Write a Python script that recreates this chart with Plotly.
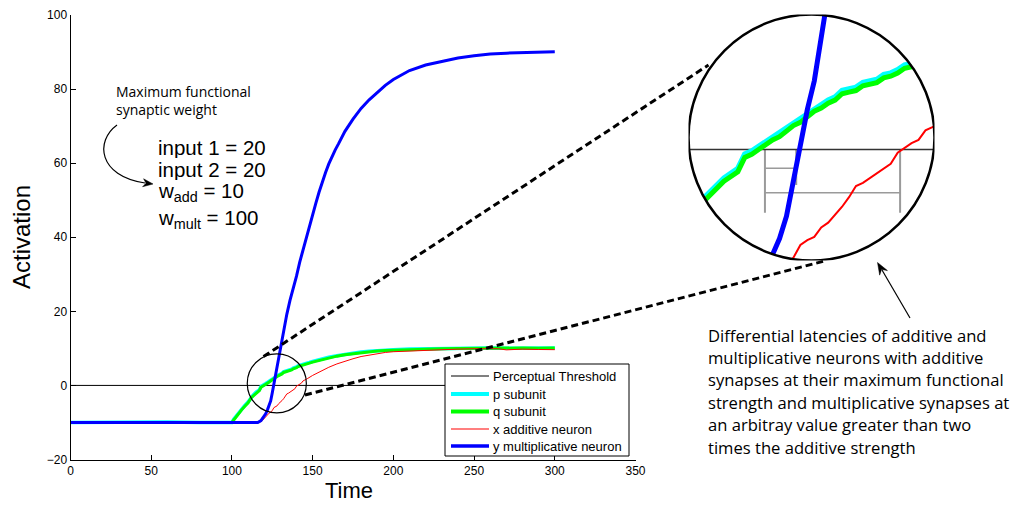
import math
import plotly.graph_objects as go

# ---------------------------------------------------------------- data
# p / q subunits (shared time base)
t_sub = [0, 20, 40, 60, 80, 100, 101, 102, 104, 106, 108, 110, 112, 113, 115, 117, 118, 119,
         120, 121, 122, 123, 124, 125, 126, 127, 128, 129, 130, 131, 132, 133, 134, 135, 136,
         137, 138, 139, 140, 141, 142, 143, 144, 146, 148, 150, 155, 160, 165, 170, 175, 180,
         185, 190, 195, 200, 210, 220, 230, 240, 250, 260, 270, 280, 290, 300]
p_subunit = [-10.0, -9.9, -10.0, -9.9, -10.0, -10.0, -9.2, -8.6, -7.7, -6.4, -5.4, -4.5, -3.1,
             -2.7, -1.8, -1.2, -0.3, -0.1, 0.2, 0.5, 0.8, 1.0, 1.4, 1.7, 1.9, 2.3, 2.6, 2.8,
             3.1, 3.3, 3.7, 3.8, 3.9, 4.2, 4.3, 4.4, 4.7, 4.8, 5.0, 5.3, 5.4, 5.5, 5.7, 6.0,
             6.2, 6.5, 7.1, 7.6, 8.0, 8.4, 8.8, 9.0, 9.2, 9.4, 9.5, 9.6, 9.8, 9.9, 9.95, 10.0,
             10.05, 10.1, 10.05, 10.1, 10.05, 10.1]
q_subunit = [-10.0, -10.0, -9.9, -10.0, -10.0, -10.0, -9.4, -8.8, -7.9, -6.6, -5.6, -4.7, -3.3,
             -2.9, -2.0, -1.4, -0.5, -0.3, 0.0, 0.3, 0.6, 0.8, 1.2, 1.5, 1.7, 2.1, 2.4, 2.6,
             2.9, 3.1, 3.5, 3.6, 3.7, 4.0, 4.1, 4.2, 4.5, 4.6, 4.8, 5.1, 5.2, 5.3, 5.5, 5.8,
             6.0, 6.3, 6.9, 7.4, 7.9, 8.3, 8.6, 8.9, 9.1, 9.3, 9.4, 9.5, 9.7, 9.8, 9.9, 9.95,
             10.0, 10.1, 10.0, 10.1, 10.0, 10.1]

# x additive neuron
t_add = [0, 20, 40, 60, 80, 100, 110, 117, 118, 119, 120, 121, 122, 123, 124, 125, 126, 127,
         128, 129, 130, 131, 132, 133, 134, 135, 136, 137, 138, 139, 140, 141, 142, 143, 144,
         145, 147, 150, 155, 160, 165, 170, 175, 180, 185, 190, 195, 200, 210, 220, 230, 240,
         250, 255, 260, 265, 270, 275, 280, 290, 300]
x_additive = [-10.0, -10.0, -10.0, -10.0, -10.0, -10.0, -10.0, -10.0, -9.8, -9.4, -8.9, -8.4,
              -8.0, -7.5, -7.2, -6.8, -6.0, -5.7, -5.5, -4.9, -4.6, -4.1, -3.6, -3.0, -2.3,
              -2.1, -1.8, -1.5, -1.2, -0.9, -0.2, 0.1, 0.4, 0.6, 1.2, 1.4, 1.9, 2.7, 3.9, 4.9,
              5.8, 6.6, 7.2, 7.8, 8.2, 8.6, 8.9, 9.1, 9.3, 9.5, 9.75, 9.8, 9.9, 9.95, 9.85, 9.9,
              9.6, 9.8, 9.8, 9.7, 9.65]

# y multiplicative neuron
t_mult = [0, 20, 40, 60, 80, 100, 110, 116, 118, 120, 121, 122, 123, 124, 125, 126, 127, 128,
          129, 130, 131, 132, 133, 134, 136, 138, 140, 142, 144, 146, 148, 150, 152, 154, 156,
          158, 160, 162, 164, 166, 170, 175, 180, 185, 190, 195, 200, 210, 220, 230, 240, 250,
          260, 270, 280, 290, 300]
y_multiplicative = [-10.0, -10.0, -10.0, -10.0, -10.0, -10.0, -10.0, -10.0, -9.5, -8.3, -7.6,
                    -6.6, -5.6, -4.2, -2.0, 0.4, 2.5, 4.3, 7.0, 9.8, 12.2, 14.8, 17.0, 19.2,
                    23.0, 26.0, 29.5, 33.3, 36.6, 39.7, 42.8, 46.0, 49.2, 52.2, 55.0, 57.5,
                    59.8, 61.8, 63.6, 65.2, 68.6, 71.9, 74.8, 77.1, 79.1, 81.0, 82.6, 85.0,
                    86.5, 87.5, 88.4, 89.0, 89.5, 89.7, 89.9, 90.0, 90.1]

# perceptual threshold
t_threshold = [0, 300]
threshold = [0, 0]

# latency markers drawn in the magnified view (crossing times)
latency_marks = [120.9, 125.4, 140.35]

x_ticks = [0, 50, 100, 150, 200, 250, 300, 350]
y_ticks = [-20, 0, 20, 40, 60, 80, 100]

series = [
    ("Perceptual Threshold", t_threshold, threshold, "#000000", 1.0, 1.6),
    ("p subunit", t_sub, p_subunit, "#00FFFF", 3.5, 5.5),
    ("q subunit", t_sub, q_subunit, "#00FF00", 3.0, 5.0),
    ("x additive neuron", t_add, x_additive, "#FF0000", 1.0, 2.0),
    ("y multiplicative neuron", t_mult, y_multiplicative, "#0000FF", 3.0, 5.0),
]

# ---------------------------------------------------------------- geometry helpers
W, H = 1011, 506


def px(x):
    return x / W


def py(y):
    return 1 - y / H


# magnified window (centre and half-ranges in data units)
TC, VC, RT, RV = 127.6, 0.75, 17.7, 7.73
# small circle marking the magnified region on the main axes
SC_T, SC_V, SC_RT, SC_RV = 127.8, 0.54, 18.3, 7.97


def clip_to_ellipse(ts, vs, tc, vc, rt, rv):
    """Keep the parts of a polyline that fall inside an axis-aligned ellipse."""
    out_t, out_v = [], []
    continuing = False
    for i in range(len(ts) - 1):
        t0, v0, t1, v1 = ts[i], vs[i], ts[i + 1], vs[i + 1]
        ax0, ay0 = (t0 - tc) / rt, (v0 - vc) / rv
        dx, dy = (t1 - t0) / rt, (v1 - v0) / rv
        A = dx * dx + dy * dy
        B = 2 * (ax0 * dx + ay0 * dy)
        C = ax0 * ax0 + ay0 * ay0 - 1
        if A == 0:
            continuing = False
            continue
        disc = B * B - 4 * A * C
        if disc <= 0:
            continuing = False
            continue
        r = math.sqrt(disc)
        lo = max(0.0, (-B - r) / (2 * A))
        hi = min(1.0, (-B + r) / (2 * A))
        if lo >= hi:
            continuing = False
            continue
        pl = (t0 + lo * (t1 - t0), v0 + lo * (v1 - v0))
        ph = (t0 + hi * (t1 - t0), v0 + hi * (v1 - v0))
        if continuing and lo == 0.0:
            out_t.append(ph[0]); out_v.append(ph[1])
        else:
            if out_t:
                out_t.append(None); out_v.append(None)
            out_t += [pl[0], ph[0]]; out_v += [pl[1], ph[1]]
        continuing = hi == 1.0
    return out_t, out_v


def arrowhead_path(tip, tail, length=10.0, half=4.0, notch=7.0):
    """Filled arrowhead (pixel geometry) returned as a paper-coordinate SVG path."""
    ux, uy = tip[0] - tail[0], tip[1] - tail[1]
    n = math.hypot(ux, uy)
    ux, uy = ux / n, uy / n
    bx, by = tip[0] - length * ux, tip[1] - length * uy
    nx, ny = -uy, ux
    c1 = (bx + half * nx, by + half * ny)
    c2 = (bx - half * nx, by - half * ny)
    m = (tip[0] - notch * ux, tip[1] - notch * uy)
    pts = [tip, c1, m, c2]
    return "M " + " L ".join(f"{px(a)} {py(b)}" for a, b in pts) + " Z"


# ---------------------------------------------------------------- figure
fig = go.Figure()

for name, ts, vs, color, lw_main, lw_zoom in series:
    fig.add_trace(go.Scatter(x=ts, y=vs, mode="lines", name=name,
                             line=dict(color=color, width=lw_main),
                             xaxis="x", yaxis="y", showlegend=False, hoverinfo="skip"))

for name, ts, vs, color, lw_main, lw_zoom in series:
    ct, cv = clip_to_ellipse(ts, vs, TC, VC, RT, RV)
    zc = "#333333" if name == "Perceptual Threshold" else color
    fig.add_trace(go.Scatter(x=ct, y=cv, mode="lines", name=name,
                             line=dict(color=zc, width=lw_zoom),
                             xaxis="x2", yaxis="y2", showlegend=False, hoverinfo="skip",
                             connectgaps=False))

TICKFONT = dict(family="Liberation Sans, Arial, sans-serif", size=12, color="black")

fig.update_layout(
    template="none",
    width=W, height=H,
    margin=dict(l=0, r=0, t=0, b=0, pad=0),
    paper_bgcolor="white", plot_bgcolor="white",
    xaxis=dict(domain=[px(70.5), px(635.5)], range=[0, 350], tickvals=x_ticks,
               ticks="inside", ticklen=5, tickwidth=1, tickcolor="black",
               showline=True, linecolor="black", linewidth=1, showgrid=False,
               zeroline=False, tickfont=TICKFONT, anchor="y", automargin=False),
    yaxis=dict(domain=[py(459.5), py(15)], range=[-20, 100], tickvals=y_ticks,
               ticks="inside", ticklen=5, tickwidth=1, tickcolor="black",
               showline=True, linecolor="black", linewidth=1, showgrid=False,
               zeroline=False, tickfont=TICKFONT, anchor="x", automargin=False),
    xaxis2=dict(domain=[px(688.5), px(934.5)], range=[TC - RT, TC + RT], visible=False,
                anchor="y2", automargin=False),
    yaxis2=dict(domain=[py(260.5), py(14.5)], range=[VC - RV, VC + RV], visible=False,
                anchor="x2", automargin=False),
)

shapes = []

# latency markers inside the magnified view
g = "#9a9a9a"
shapes += [
    dict(type="line", xref="x2", yref="y2", x0=latency_marks[0], x1=latency_marks[0],
         y0=0, y1=-3.98, line=dict(color=g, width=2), layer="below"),
    dict(type="line", xref="x2", yref="y2", x0=latency_marks[1], x1=latency_marks[1],
         y0=0, y1=-2.24, line=dict(color=g, width=2), layer="below"),
    dict(type="line", xref="x2", yref="y2", x0=latency_marks[2], x1=latency_marks[2],
         y0=0, y1=-3.98, line=dict(color=g, width=2), layer="below"),
    dict(type="line", xref="x2", yref="y2", x0=latency_marks[0], x1=latency_marks[1],
         y0=-1.19, y1=-1.19, line=dict(color=g, width=1.5), layer="below"),
    dict(type="line", xref="x2", yref="y2", x0=latency_marks[0], x1=latency_marks[2],
         y0=-2.72, y1=-2.72, line=dict(color=g, width=1.5), layer="below"),
]

# magnified circle outline
shapes.append(dict(type="circle", xref="x2", yref="y2", x0=TC - RT, x1=TC + RT,
                   y0=VC - RV, y1=VC + RV, line=dict(color="black", width=2.5)))
# small circle on the main axes
shapes.append(dict(type="circle", xref="x", yref="y", x0=SC_T - SC_RT, x1=SC_T + SC_RT,
                   y0=SC_V - SC_RV, y1=SC_V + SC_RV, line=dict(color="black", width=1.2)))

# dashed connectors
for (x0, y0, x1, y1) in [(263.5, 356.5, 708.5, 65.0), (305.0, 395.0, 826.5, 260.5)]:
    shapes.append(dict(type="line", xref="paper", yref="paper", x0=px(x0), y0=py(y0),
                       x1=px(x1), y1=py(y1),
                       line=dict(color="black", width=3, dash="7px,4px")))

# curved arrow pointing at the parameter block
shapes.append(dict(type="path", xref="paper", yref="paper",
                   path=f"M {px(117)} {py(125)} C {px(95)} {py(141)} {px(98)} {py(176)} "
                        f"{px(145)} {py(183)}",
                   line=dict(color="black", width=1.2)))
shapes.append(dict(type="path", xref="paper", yref="paper",
                   path=arrowhead_path((153, 184), (145, 183), length=10, half=4, notch=7),
                   fillcolor="black", line=dict(color="black", width=0.5)))

# straight arrow pointing at the magnified view
shapes.append(dict(type="line", xref="paper", yref="paper", x0=px(910), y0=py(318),
                   x1=px(882), y1=py(270), line=dict(color="black", width=1.2)))
shapes.append(dict(type="path", xref="paper", yref="paper",
                   path=arrowhead_path((877.5, 262.5), (910, 318), length=12, half=4.5,
                                       notch=8),
                   fillcolor="black", line=dict(color="black", width=0.5)))

# legend box
LX0, LY0, LX1, LY1 = 445, 364, 629, 456
shapes.append(dict(type="rect", xref="paper", yref="paper", x0=px(LX0), y0=py(LY1),
                   x1=px(LX1), y1=py(LY0), fillcolor="white",
                   line=dict(color="black", width=1), layer="above"))
row_y = [376, 394, 411.5, 429, 446]
legend_w = [1.0, 4.0, 4.0, 1.2, 3.5]
for (name, ts, vs, color, lw_main, lw_zoom), ry, lw in zip(series, row_y, legend_w):
    shapes.append(dict(type="line", xref="paper", yref="paper", x0=px(451), x1=px(489),
                       y0=py(ry), y1=py(ry), line=dict(color=color, width=lw), layer="above"))

fig.update_layout(shapes=shapes)

annotations = []
for (name, *_), ry in zip(series, row_y):
    annotations.append(dict(text=name, xref="paper", yref="paper", x=px(491), y=py(ry),
                            xanchor="left", yanchor="middle", showarrow=False,
                            font=dict(family="Liberation Sans, Arial", size=13, color="black")))

# axis titles
annotations.append(dict(text="Activation", xref="paper", yref="paper", x=px(22), y=py(237),
                        textangle=-90, showarrow=False, xanchor="center", yanchor="middle",
                        font=dict(family="Liberation Sans, Arial", size=24, color="black")))
annotations.append(dict(text="Time", xref="paper", yref="paper", x=px(349), y=py(490),
                        showarrow=False, xanchor="center", yanchor="middle",
                        font=dict(family="Liberation Sans, Arial", size=22, color="black")))

# parameter note
MYR = "Open Sans, Noto Sans, sans-serif"
annotations.append(dict(text="Maximum functional<br>synaptic weight", xref="paper",
                        yref="paper", x=px(114), y=py(101), xanchor="left",
                        yanchor="middle", align="left", showarrow=False,
                        font=dict(family=MYR, size=14, color="black")))
# lines of the parameter block sit closer than their text boxes, so give each a fixed box
param_lines = [("input 1 = 20", 147, 21), ("input 2 = 20", 169, 21),
               ("w<sub>add</sub> = 10", 192, 24), ("w<sub>mult</sub> = 100", 219, 26)]
for txt, cy, hbox in param_lines:
    annotations.append(dict(text=txt, xref="paper", yref="paper", x=px(158), y=py(cy),
                            xanchor="left", yanchor="middle", showarrow=False,
                            height=hbox, borderpad=0, borderwidth=0, valign="middle",
                            font=dict(family="Liberation Sans, Arial", size=20.5,
                                      color="black")))

note_lines = ["Differential latencies of additive and",
              "multiplicative neurons with additive",
              "synapses at their maximum functional",
              "strength and multiplicative synapses at",
              "an arbitray value greater than two",
              "times the additive strength"]
for i, line in enumerate(note_lines):
    annotations.append(dict(text=line, xref="paper", yref="paper", x=px(706),
                            y=py(335 + 22.4 * i), xanchor="left", yanchor="middle",
                            showarrow=False, font=dict(family=MYR, size=16.6, color="black")))

fig.update_layout(annotations=annotations)

fig.write_html("out.html")
